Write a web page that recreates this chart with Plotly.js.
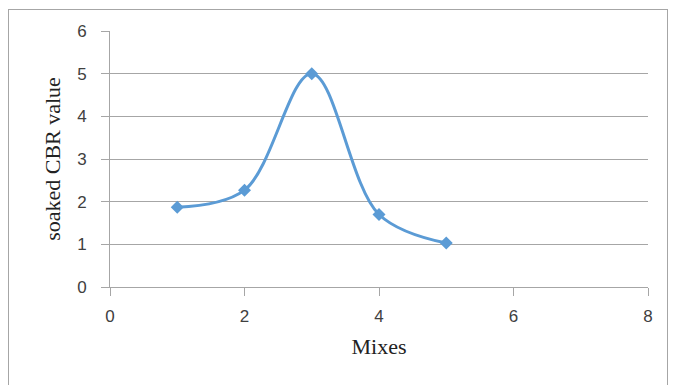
<!DOCTYPE html>
<html>
<head>
<meta charset="utf-8">
<script src="https://cdn.plot.ly/plotly-3.0.1.min.js"></script>
<style>
html,body{margin:0;padding:0;background:#fff;}
#chart{width:675px;height:385px;position:relative;}
#frame{position:absolute;left:8px;top:9px;width:658px;height:380px;border:1px solid #a6a6a6;pointer-events:none;}
</style>
</head>
<body>
<div id="chart"></div>
<div id="frame"></div>
<script>
const mixes = [1, 2, 3, 4, 5];
const cbrValues = [1.87, 2.27, 5.0, 1.7, 1.03];
const xTicks = [0, 2, 4, 6, 8];
const yTicks = [0, 1, 2, 3, 4, 5, 6];

const trace = {
  x: mixes,
  y: cbrValues,
  mode: 'lines+markers',
  type: 'scatter',
  line: {shape: 'spline', smoothing: 1, color: '#5B9BD5', width: 3},
  marker: {symbol: 'diamond', size: 10, color: '#5B9BD5'},
  hoverinfo: 'skip'
};

const layout = {
  width: 675, height: 385,
  margin: {l: 110, r: 27, t: 31, b: 98},
  paper_bgcolor: '#fff', plot_bgcolor: '#fff',
  showlegend: false,
  xaxis: {
    range: [0, 8], tickvals: xTicks, ticktext: xTicks.map(String),
    showgrid: false, zeroline: false,
    showline: true, linecolor: '#a6a6a6', linewidth: 1,
    ticks: 'outside', ticklen: 8, tickcolor: '#a6a6a6',
    ticklabelstandoff: 6,
    tickfont: {family: 'Liberation Sans, Arial, sans-serif', size: 17, color: '#404040'},
    title: {text: 'Mixes', font: {family: 'Liberation Serif, Times New Roman, serif', size: 22, color: '#222'}, standoff: 13}
  },
  yaxis: {
    range: [0, 6], tickvals: yTicks, ticktext: yTicks.map(String),
    showgrid: true, gridcolor: '#a6a6a6', gridwidth: 1, zeroline: false,
    showline: true, linecolor: '#a6a6a6', linewidth: 1,
    ticks: 'outside', ticklen: 8, tickcolor: '#a6a6a6',
    ticklabelstandoff: 11,
    tickfont: {family: 'Liberation Sans, Arial, sans-serif', size: 17, color: '#404040'},
    title: {text: 'soaked CBR value', font: {family: 'Liberation Serif, Times New Roman, serif', size: 22, color: '#222'}, standoff: 10}
  }
};

Plotly.newPlot('chart', [trace], layout, {displayModeBar: false, staticPlot: true});
</script>
</body>
</html>
